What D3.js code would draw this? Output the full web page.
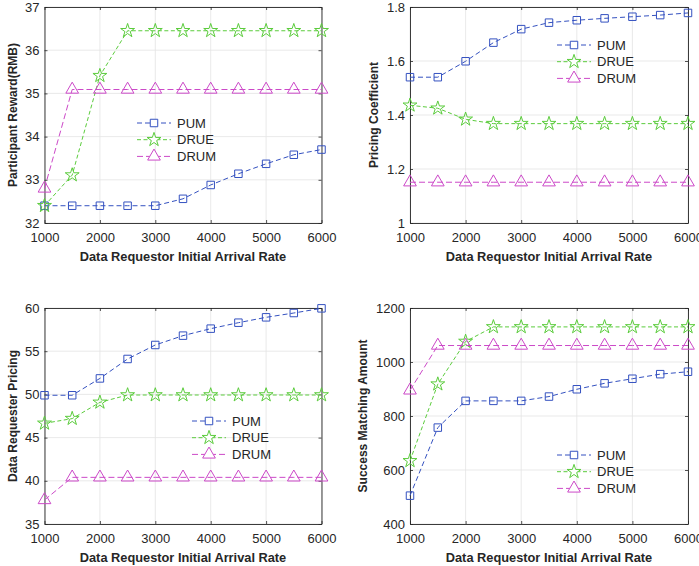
<!DOCTYPE html>
<html>
<head>
  <meta charset="utf-8">
  <script src="https://d3js.org/d3.v7.min.js"></script>
  <title>Arrival rate panels</title>
  <style>
    body { margin: 0; background: #fff; }
    text { font-family: "Liberation Sans", Arial, sans-serif; fill: #262626; }
  </style>
</head>
<body>
<script>
var arrivalRates = [1000, 1500, 2000, 2500, 3000, 3500, 4000, 4500, 5000, 5500, 6000];
var xTicks = [1000, 2000, 3000, 4000, 5000, 6000];
var seriesNames = ["PUM", "DRUE", "DRUM"];

// participant reward
var rewardPUM  = [32.4, 32.4, 32.4, 32.4, 32.4, 32.56, 32.88, 33.14, 33.37, 33.58, 33.7];
var rewardDRUE = [32.4, 33.11, 35.41, 36.45, 36.45, 36.45, 36.45, 36.45, 36.45, 36.45, 36.45];
var rewardDRUM = [32.8, 35.09, 35.09, 35.09, 35.09, 35.09, 35.09, 35.09, 35.09, 35.09, 35.09];
var rewardTicks = [32, 33, 34, 35, 36, 37];

// pricing coefficient
var coefPUM  = [1.54, 1.54, 1.599, 1.668, 1.718, 1.742, 1.751, 1.758, 1.764, 1.77, 1.778];
var coefDRUE = [1.436, 1.425, 1.384, 1.368, 1.368, 1.368, 1.368, 1.368, 1.368, 1.368, 1.368];
var coefDRUM = [1.151, 1.151, 1.151, 1.151, 1.151, 1.151, 1.151, 1.151, 1.151, 1.151, 1.151];
var coefTicks = [1, 1.2, 1.4, 1.6, 1.8];

// data requester pricing
var pricePUM  = [49.9, 49.9, 51.85, 54.1, 55.72, 56.8, 57.61, 58.3, 58.92, 59.42, 59.96];
var priceDRUE = [46.65, 47.2, 49.08, 49.93, 49.93, 49.93, 49.93, 49.93, 49.93, 49.93, 49.93];
var priceDRUM = [37.78, 40.4, 40.4, 40.4, 40.4, 40.4, 40.4, 40.4, 40.4, 40.4, 40.4];
var priceTicks = [35, 40, 45, 50, 55, 60];

// success matching amount
var matchPUM  = [505, 757, 856, 856, 856, 872, 899, 921, 938, 955, 964];
var matchDRUE = [634, 918, 1076, 1130, 1130, 1130, 1130, 1130, 1130, 1130, 1130];
var matchDRUM = [895, 1061, 1061, 1061, 1061, 1061, 1061, 1061, 1061, 1061, 1061];
var matchTicks = [400, 600, 800, 1000, 1200];

var colors = ["#3451c0", "#5bcc3c", "#cc49c8"];
var symbols = [d3.symbolSquare, d3.symbolStar, d3.symbolTriangle];
var symbolSizes = [56, 60, 70];
var dashes = ["5,3", "4,2.5", "6,3"];

var svg = d3.select("body").append("svg")
  .attr("width", 699)
  .attr("height", 566);

var panels = [
  { left: 44.5, right: 321.5, top: 7, bottom: 223, ticks: rewardTicks,
    series: [rewardPUM, rewardDRUE, rewardDRUM], ylabel: "Participant Reward(RMB)",
    ylabelX: 13, legend: [137, 123] },
  { left: 410, right: 688, top: 7, bottom: 223, ticks: coefTicks,
    series: [coefPUM, coefDRUE, coefDRUM], ylabel: "Pricing Coefficient",
    ylabelX: 374, legend: [557, 45] },
  { left: 44.5, right: 321.5, top: 308, bottom: 524, ticks: priceTicks,
    series: [pricePUM, priceDRUE, priceDRUM], ylabel: "Data Requester Pricing",
    ylabelX: 13, legend: [192, 421] },
  { left: 410, right: 688, top: 308, bottom: 524, ticks: matchTicks,
    series: [matchPUM, matchDRUE, matchDRUM], ylabel: "Success Matching Amount",
    ylabelX: 363, legend: [557, 455] }
];

var fmt = d3.format("~g");

panels.forEach(function(p) {
  var x = d3.scaleLinear().domain([1000, 6000]).range([p.left, p.right]);
  var y = d3.scaleLinear()
    .domain([p.ticks[0], p.ticks[p.ticks.length - 1]])
    .range([p.bottom, p.top]);

  var g = svg.append("g");

  // grid
  g.selectAll(".gx").data(xTicks).enter().append("line")
    .attr("x1", function(d) { return x(d); }).attr("x2", function(d) { return x(d); })
    .attr("y1", p.top).attr("y2", p.bottom)
    .attr("stroke", "#e3e3e3").attr("stroke-width", 0.8);
  g.selectAll(".gy").data(p.ticks).enter().append("line")
    .attr("y1", function(d) { return y(d); }).attr("y2", function(d) { return y(d); })
    .attr("x1", p.left).attr("x2", p.right)
    .attr("stroke", "#e3e3e3").attr("stroke-width", 0.8);

  // axes, ticks inward
  var xAxis = d3.axisBottom(x).tickValues(xTicks).tickFormat(d3.format("d"))
    .tickSizeInner(-3).tickSizeOuter(0).tickPadding(10);
  var yAxis = d3.axisLeft(y).tickValues(p.ticks).tickFormat(fmt)
    .tickSizeInner(-3).tickSizeOuter(0).tickPadding(5);
  var xTop = d3.axisTop(x).tickValues(xTicks).tickSizeInner(-3).tickSizeOuter(0).tickFormat("");
  var yRight = d3.axisRight(y).tickValues(p.ticks).tickSizeInner(-3).tickSizeOuter(0).tickFormat("");

  var axes = [
    g.append("g").attr("transform", "translate(0," + p.bottom + ")").call(xAxis),
    g.append("g").attr("transform", "translate(" + p.left + ",0)").call(yAxis),
    g.append("g").attr("transform", "translate(0," + p.top + ")").call(xTop),
    g.append("g").attr("transform", "translate(" + p.right + ",0)").call(yRight)
  ];
  axes.forEach(function(a) {
    a.select(".domain").attr("stroke", "#262626").attr("stroke-width", 0.9);
    a.selectAll(".tick line").attr("stroke", "#262626").attr("stroke-width", 0.8);
    a.selectAll(".tick text").attr("font-size", 13).attr("fill", "#262626")
      .style("font-family", "Liberation Sans, Arial, sans-serif");
  });

  // axis titles
  g.append("text")
    .attr("x", (p.left + p.right) / 2)
    .attr("y", p.bottom + 38)
    .attr("text-anchor", "middle")
    .attr("font-size", 12.8)
    .attr("font-weight", "bold")
    .text("Data Requestor Initial Arrival Rate");
  g.append("text")
    .attr("transform", "translate(" + p.ylabelX + "," + (p.top + p.bottom) / 2 + ") rotate(-90)")
    .attr("dy", "0.35em")
    .attr("text-anchor", "middle")
    .attr("font-size", 12)
    .attr("font-weight", "bold")
    .text(p.ylabel);

  // lines and markers
  var line = d3.line()
    .x(function(d, i) { return x(arrivalRates[i]); })
    .y(function(d) { return y(d); });

  p.series.forEach(function(vals, s) {
    g.append("path")
      .datum(vals)
      .attr("d", line)
      .attr("fill", "none")
      .attr("stroke", colors[s])
      .attr("stroke-width", 1)
      .attr("stroke-dasharray", dashes[s]);
    g.selectAll(".m" + s).data(vals).enter().append("path")
      .attr("d", d3.symbol().type(symbols[s]).size(symbolSizes[s]))
      .attr("transform", function(d, i) { return "translate(" + x(arrivalRates[i]) + "," + y(d) + ")"; })
      .attr("fill", "none")
      .attr("stroke", colors[s])
      .attr("stroke-width", 1);
  });

  // legend
  var lg = g.append("g").attr("transform", "translate(" + p.legend[0] + "," + p.legend[1] + ")");
  seriesNames.forEach(function(name, s) {
    var row = lg.append("g").attr("transform", "translate(0," + (s * 16.7) + ")");
    row.append("line")
      .attr("x1", 0).attr("x2", 34).attr("y1", 0).attr("y2", 0)
      .attr("stroke", colors[s]).attr("stroke-width", 1)
      .attr("stroke-dasharray", dashes[s]);
    row.append("path")
      .attr("d", d3.symbol().type(symbols[s]).size(symbolSizes[s]))
      .attr("transform", "translate(17,0)")
      .attr("fill", "#fff")
      .attr("stroke", colors[s]);
    row.append("text")
      .attr("x", 40).attr("dy", "0.35em")
      .attr("font-size", 13)
      .text(name);
  });
});
</script>
</body>
</html>
